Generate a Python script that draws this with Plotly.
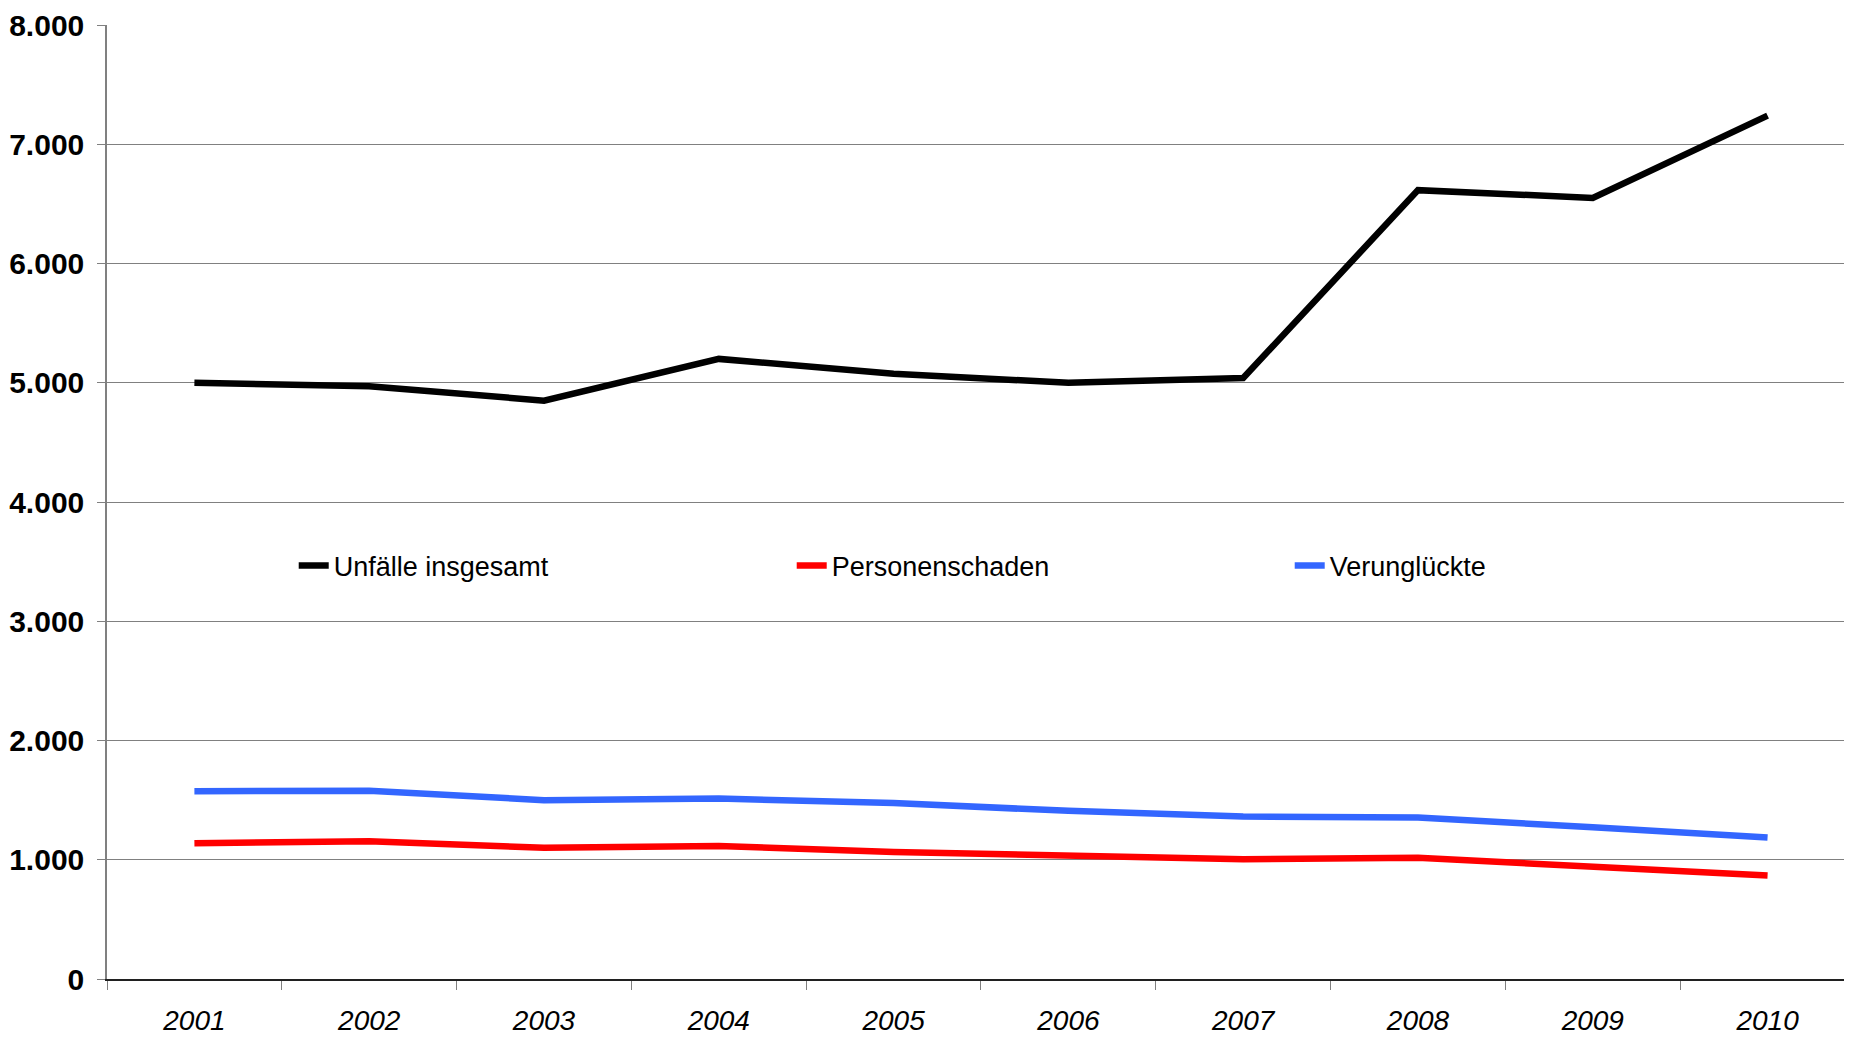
import plotly.graph_objects as go

years = ["2001", "2002", "2003", "2004", "2005", "2006", "2007", "2008", "2009", "2010"]
unfaelle_insgesamt = [5000, 4970, 4850, 5200, 5075, 5000, 5040, 6615, 6550, 7240]
personenschaden = [1138, 1155, 1100, 1116, 1065, 1030, 1004, 1016, 944, 868]
verunglueckte = [1575, 1578, 1500, 1513, 1475, 1410, 1362, 1354, 1272, 1186]

series = [
    ("Unfälle insgesamt", unfaelle_insgesamt, "#000000"),
    ("Personenschaden", personenschaden, "#ff0000"),
    ("Verunglückte", verunglueckte, "#3366ff"),
]

font_family = "Liberation Sans, Arial, sans-serif"

fig = go.Figure()
for name, values, color in series:
    fig.add_trace(
        go.Scatter(
            x=years,
            y=values,
            name=name,
            mode="lines",
            line=dict(color=color, width=6.5),
        )
    )

# page body keeps its default 8px margin, so the figure is 8px smaller
fig.update_layout(
    width=1844,
    height=1031,
    margin=dict(l=99, r=0, t=17, b=60, autoexpand=False),
    paper_bgcolor="white",
    plot_bgcolor="white",
    separators=",.",
    font=dict(family=font_family, color="#000000"),
    showlegend=True,
    legend=dict(
        orientation="h",
        x=0.107,
        xanchor="left",
        y=0.433,
        yanchor="middle",
        font=dict(size=27, family=font_family),
        entrywidth=453,
        entrywidthmode="pixels",
        bgcolor="rgba(0,0,0,0)",
    ),
)

fig.update_xaxes(
    type="category",
    range=[-0.5, 9.483],
    automargin=False,
    showline=True,
    linecolor="#202020",
    linewidth=1.5,
    ticks="outside",
    tickson="boundaries",
    ticklen=9,
    tickcolor="#808080",
    showgrid=False,
    tickfont=dict(size=28, family=font_family, style="italic"),
    ticklabelstandoff=16,
)
fig.update_yaxes(
    range=[0, 8000],
    tickvals=[0, 1000, 2000, 3000, 4000, 5000, 6000, 7000, 8000],
    tickformat=",.0f",
    automargin=False,
    showline=True,
    linecolor="#808080",
    linewidth=1.5,
    ticks="outside",
    ticklen=8,
    tickcolor="#808080",
    showgrid=True,
    gridcolor="#808080",
    gridwidth=1,
    zeroline=False,
    tickfont=dict(size=30, family=font_family, weight="bold"),
    ticklabelstandoff=7,
    ticklabeloverflow="allow",
)

fig.write_html("out.html")
